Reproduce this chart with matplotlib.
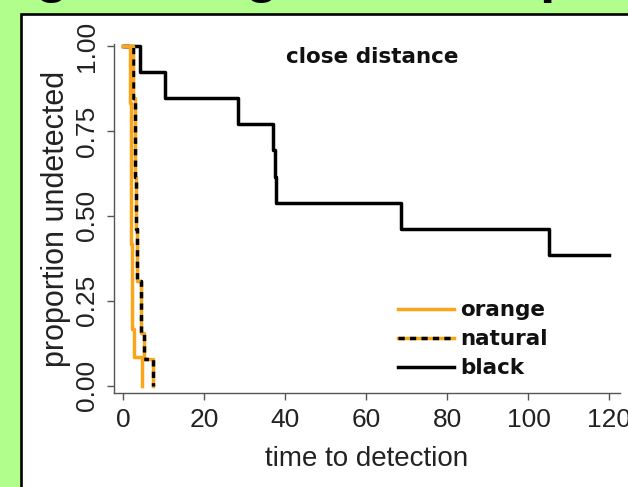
import matplotlib
matplotlib.use("Agg")
import matplotlib.pyplot as plt
from matplotlib.lines import Line2D
from matplotlib.patches import Rectangle
from matplotlib.legend_handler import HandlerTuple

# ---- data (Kaplan-Meier style step curves) ----
black_t = [0, 4.1, 10.3, 28.4, 37.0, 37.4, 37.8, 68.5, 105.0, 120.0]
black_s = [1.0, 12/13, 11/13, 10/13, 9/13, 8/13, 7/13, 6/13, 5/13, 5/13]

natural_t = [0, 2.5, 2.8, 3.1, 3.4, 4.3, 5.2, 7.4]
natural_s = [1.0, 11/13, 8/13, 6/13, 4/13, 2/13, 1/13, 0.0]

orange_t = [0, 1.7, 2.0, 2.2, 2.6, 4.5]
orange_s = [1.0, 10/12, 5/12, 2/12, 1/12, 0.0]

xticks = [0, 20, 40, 60, 80, 100, 120]
yticks = [0.0, 0.25, 0.5, 0.75, 1.0]
ytick_labels = ["0.00", "0.25", "0.50", "0.75", "1.00"]
legend_labels = ["orange", "natural", "black"]
title = "close distance"
xlabel = "time to detection"
ylabel = "proportion undetected"

GREEN = "#b2fe8c"
ORANGE = "#f9a61c"
W, H = 628, 487

fig = plt.figure(figsize=(W / 100, H / 100), dpi=100)
fig.patch.set_facecolor(GREEN)

# clipped slide title (only descenders visible)
for ch, x, ha in [("g", 52, "center"), ("g", 262, "center"), ("p", 539, "left")]:
    fig.text(x / W, 1 + 8.6 / H, ch, ha=ha, va="baseline", fontsize=40,
             fontweight="bold", family="Liberation Sans", color="black")

# white panel with black border
panel = Rectangle((21 / W, -0.2), 1.5, 1.2 - 13.5 / H, transform=fig.transFigure,
                  facecolor="white", edgecolor="black", linewidth=1.9, zorder=0)
fig.add_artist(panel)

ax = fig.add_axes([114 / W, (H - 393) / H, (620 - 114) / W, (393 - 44) / H])
ax.patch.set_alpha(0)

lw = 2.5
dash = (0, (1.8, 1.5))
ax.step(black_t, black_s, where="post", color="black", lw=lw, zorder=2)
ax.step(natural_t, natural_s, where="post", color=ORANGE, lw=lw, zorder=3)
ax.step(natural_t, natural_s, where="post", color="black", lw=lw,
        linestyle=dash, zorder=4)
ax.step(orange_t, orange_s, where="post", color=ORANGE, lw=lw, zorder=5)

ax.set_xlim(-2.3, 122.6)
ax.set_ylim(-0.022, 1.006)
for s in ["top", "right"]:
    ax.spines[s].set_visible(False)
for s in ["left", "bottom"]:
    ax.spines[s].set_color("#555555")
    ax.spines[s].set_linewidth(1.0)

tick_font = dict(family="Liberation Sans", size=19)
ax.set_xticks(xticks)
ax.set_xticklabels([str(v) for v in xticks], fontdict=tick_font, color="#222222")
ax.set_yticks(yticks)
ax.set_yticklabels(ytick_labels, fontdict=tick_font, color="#222222",
                   rotation=90, va="center")
ax.tick_params(axis="both", length=5, width=1, color="#555555")
ax.tick_params(axis="x", pad=6)
ax.tick_params(axis="y", pad=5.5)

ax.set_xlabel(xlabel, family="Liberation Sans", fontsize=20, color="#222222", labelpad=10)
ax.set_ylabel(ylabel, family="Liberation Sans", fontsize=22, color="#222222", labelpad=3)

ax.text((372 - 114) / 506, (393 - 57) / 349, title, transform=ax.transAxes,
        ha="center", va="center", fontsize=15.5, fontweight="bold",
        family="DejaVu Sans", color="#111111")

h_orange = Line2D([], [], color=ORANGE, lw=lw)
h_nat = (Line2D([], [], color=ORANGE, lw=lw),
         Line2D([], [], color="black", lw=lw, linestyle=dash))
h_black = Line2D([], [], color="black", lw=lw)
leg = ax.legend([h_orange, h_nat, h_black], legend_labels,
                handler_map={tuple: HandlerTuple(ndivide=1)},
                loc="upper left", bbox_to_anchor=((398 - 114) / 506, (393 - 300.5) / 349),
                frameon=False, borderpad=0, borderaxespad=0,
                handlelength=2.6, handletextpad=0.28, labelspacing=0.41,
                prop=dict(family="DejaVu Sans", weight="bold", size=15.5))
for t in leg.get_texts():
    t.set_color("#111111")

fig.savefig("out.png", dpi=100, facecolor=GREEN)
